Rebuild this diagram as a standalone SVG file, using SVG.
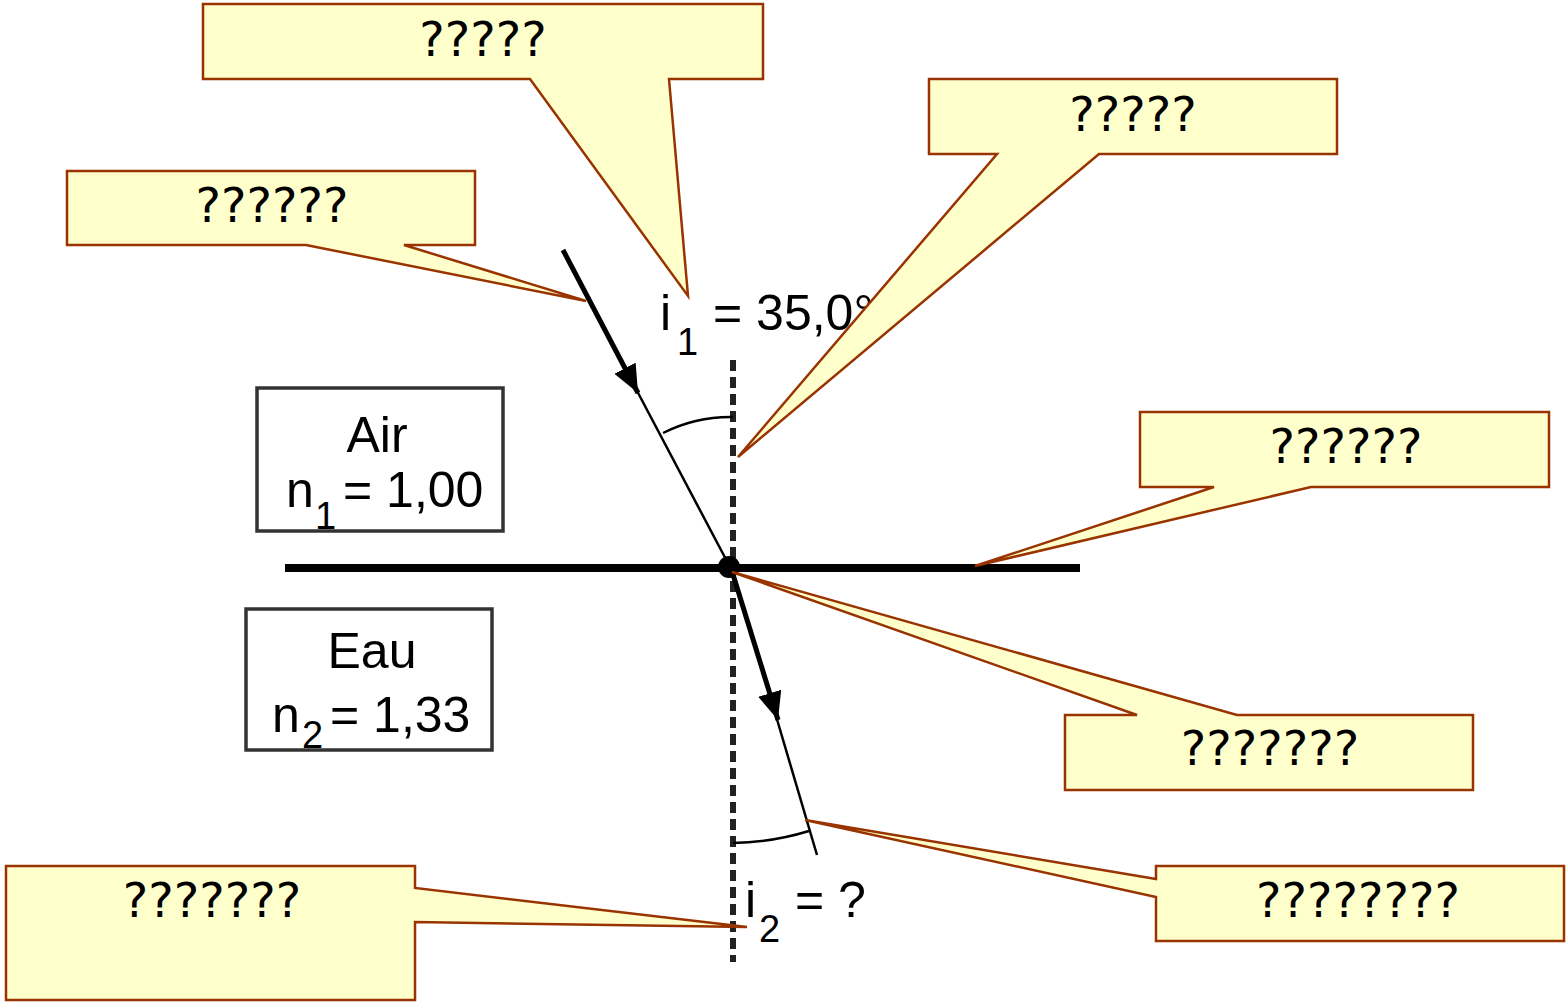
<svg xmlns="http://www.w3.org/2000/svg" width="1566" height="1002" viewBox="0 0 1566 1002">
<style>
.callout{fill:#FFFFCC;stroke:#993300;stroke-width:2.5;stroke-linejoin:miter}
.ct{font-family:"DejaVu Sans",sans-serif;font-size:48px;fill:#000;text-anchor:middle}
.lbl{font-family:"Liberation Sans",Arial,sans-serif;font-size:50px;fill:#000}
.sub{font-family:"Liberation Sans",Arial,sans-serif;font-size:38px;fill:#000}
.box{fill:#fff;stroke:#333;stroke-width:3.5}
.ray{stroke:#000;fill:none}
</style>
<defs>
<marker id="ah" markerUnits="userSpaceOnUse" markerWidth="30" markerHeight="26" refX="28" refY="12" orient="auto">
<path d="M0,0 L28,12 L0,24 Z" fill="#000"/>
</marker>
</defs>
<rect width="1566" height="1002" fill="#fff"/>
<g id="connectors">
<line id="interface" x1="285" y1="568" x2="1080" y2="568" stroke="#000" stroke-width="8"/>
<line id="normal" x1="733" y1="360" x2="733" y2="962" stroke="#222" stroke-width="6" stroke-dasharray="11 6"/>
<line class="ray" x1="563" y1="250" x2="638" y2="393" stroke-width="5" marker-end="url(#ah)"/>
<line class="ray" x1="636" y1="389" x2="730" y2="567" stroke-width="2.5"/>
<line class="ray" x1="731" y1="568" x2="778" y2="720" stroke-width="5" marker-end="url(#ah)"/>
<line class="ray" x1="776" y1="716" x2="817" y2="855" stroke-width="2.5"/>
<path class="ray" d="M663,433 A150,150 0 0 1 733,417" stroke-width="2.5"/>
<path class="ray" d="M733,843 A276,276 0 0 0 809,831" stroke-width="2.5"/>
<circle cx="729" cy="567" r="11" fill="#000"/>
</g>
<g id="air">
<rect class="box" x="257" y="388" width="246" height="143"/>
<text class="lbl" x="377" y="452" text-anchor="middle">Air</text>
<text class="lbl" x="286" y="507">n</text>
<text class="sub" x="315" y="529">1</text>
<text class="lbl" x="343" y="507">= 1,00</text>
</g>
<g id="eau">
<rect class="box" x="246" y="609" width="246" height="141"/>
<text class="lbl" x="372" y="668" text-anchor="middle">Eau</text>
<text class="lbl" x="272" y="732">n</text>
<text class="sub" x="302" y="748">2</text>
<text class="lbl" x="330" y="732">= 1,33</text>
</g>
<g id="i1">
<text class="lbl" x="660" y="330">i</text>
<text class="sub" x="677" y="355">1</text>
<text class="lbl" x="713" y="330">= 35,0°</text>
</g>
<g id="i2">
<text class="lbl" x="745" y="917">i</text>
<text class="sub" x="759" y="942">2</text>
<text class="lbl" x="795" y="917">= ?</text>
</g>
<g id="c1">
<path class="callout" d="M203,4 H763 V79 H669 L688,296 L530,79 H203 Z"/>
<text class="ct" x="483" y="56">?????</text>
</g>
<g id="c2">
<path class="callout" d="M929,79 H1337 V154 H1099 L738,457 L997,154 H929 Z"/>
<text class="ct" x="1133" y="131">?????</text>
</g>
<g id="c3">
<path class="callout" d="M67,171 H475 V245 H404 L586,301 L306,245 H67 Z"/>
<text class="ct" x="272" y="222">??????</text>
</g>
<g id="c4">
<path class="callout" d="M1140,412 H1549 V487 H1311 L975,566 L1214,487 H1140 Z"/>
<text class="ct" x="1346" y="463">??????</text>
</g>
<g id="c5">
<path class="callout" d="M1065,715 H1137 L732,572 L1237,715 H1473 V790 H1065 Z"/>
<text class="ct" x="1270" y="765">???????</text>
</g>
<g id="c6">
<path class="callout" d="M1156,866 H1564 V941 H1156 V897 L805,820 L1156,879 Z"/>
<text class="ct" x="1358" y="917">????????</text>
</g>
<g id="c7">
<path class="callout" d="M6,866 H415 V888 L747,927 L415,922 V1000 H6 Z"/>
<text class="ct" x="212" y="917">???????</text>
</g>
</svg>
